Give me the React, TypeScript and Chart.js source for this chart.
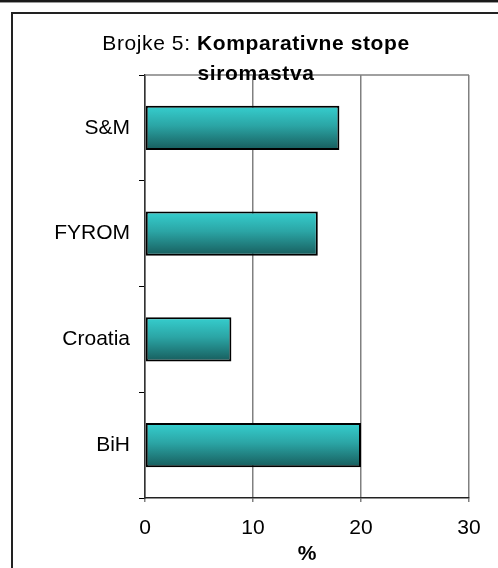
import React, { useEffect, useRef } from "react";
import { Chart, registerables } from "chart.js";

Chart.register(...registerables);

const categories = ["S&M", "FYROM", "Croatia", "BiH"];
const povertyRates = [18, 16, 8, 20];
const xTicks = [0, 10, 20, 30];
const titleNormal = "Brojke 5: ";
const titleBold1 = "Komparativne stope";
const titleBold2 = "siromastva";
const axisTitle = "%";

const FONT = "Arial, 'Liberation Sans', sans-serif";
const FS = 21;
const BAR_PCT = 0.42;

const titlePlugin = {
  id: "mixedTitle",
  afterDraw(chart: any) {
    const { ctx, chartArea } = chart;
    ctx.save();
    ctx.strokeStyle = "#808080";
    ctx.lineWidth = 1.5;
    ctx.beginPath();
    ctx.moveTo(chartArea.left, chartArea.top);
    ctx.lineTo(chartArea.right, chartArea.top);
    ctx.stroke();

    const cx = chart.width / 2 + 7;
    ctx.fillStyle = "#000";
    ctx.textBaseline = "alphabetic";
    ctx.textAlign = "left";
    try {
      ctx.letterSpacing = "0.6px";
    } catch (e) {}
    const normalFont = `${FS}px ${FONT}`;
    const boldFont = `bold ${FS}px ${FONT}`;
    ctx.font = normalFont;
    const w1 = ctx.measureText(titleNormal).width;
    ctx.font = boldFont;
    const w2 = ctx.measureText(titleBold1).width;
    const startX = cx - (w1 + w2) / 2;
    const y1 = chartArea.top - 25;
    ctx.font = normalFont;
    ctx.fillText(titleNormal, startX, y1);
    ctx.font = boldFont;
    ctx.fillText(titleBold1, startX + w1, y1);
    ctx.textAlign = "center";
    ctx.fillText(titleBold2, cx, chartArea.top + 5);
    ctx.restore();
  },
};

export default function App() {
  const ref = useRef<HTMLCanvasElement | null>(null);

  useEffect(() => {
    if (!ref.current) return;
    const chart = new Chart(ref.current, {
      type: "bar",
      data: {
        labels: categories,
        datasets: [
          {
            data: povertyRates,
            borderColor: "#000",
            borderWidth: 2,
            borderSkipped: false,
            categoryPercentage: 1,
            barPercentage: BAR_PCT,
            backgroundColor: (c: any) => {
              const ch = c.chart;
              const y = ch.scales && ch.scales.y;
              if (!y || !ch.chartArea) return "#2aa0a0";
              const center = y.getPixelForValue(c.dataIndex);
              const half = ((y.bottom - y.top) / categories.length) * BAR_PCT / 2;
              const g = ch.ctx.createLinearGradient(0, center - half, 0, center + half);
              g.addColorStop(0, "#36CFCF");
              g.addColorStop(0.45, "#2BA5A5");
              g.addColorStop(1, "#175C5C");
              return g;
            },
          },
        ],
      },
      options: {
        indexAxis: "y",
        responsive: false,
        animation: false,
        layout: { padding: { left: 0, right: 29, top: 75, bottom: 0 } },
        plugins: {
          legend: { display: false },
          tooltip: { enabled: false },
          title: { display: false },
        },
        scales: {
          x: {
            min: xTicks[0],
            max: xTicks[xTicks.length - 1],
            afterFit: (s: any) => {
              s.height = 70;
            },
            afterBuildTicks: (s: any) => {
              s.ticks = xTicks.map((v) => ({ value: v }));
            },
            ticks: {
              color: "#000",
              font: { family: FONT, size: FS },
              padding: 14,
              maxRotation: 0,
            },
            grid: {
              color: "#808080",
              lineWidth: 1.5,
              tickLength: 4,
              drawTicks: true,
            },
            border: { color: "#222", width: 1.5 },
            title: {
              display: true,
              text: axisTitle,
              color: "#000",
              font: { family: FONT, size: FS, weight: "bold" },
              padding: { top: 0, bottom: 1 },
            },
          },
          y: {
            afterFit: (s: any) => {
              s.width = 145;
            },
            ticks: {
              color: "#000",
              font: { family: FONT, size: FS },
              padding: 9,
            },
            grid: {
              offset: true,
              drawOnChartArea: false,
              drawTicks: true,
              tickLength: 6,
              tickColor: "#000",
              tickWidth: 1,
            },
            border: { color: "#333", width: 1.5 },
          },
        },
      },
      plugins: [titlePlugin],
    } as any);
    return () => chart.destroy();
  }, []);

  return (
    <div
      style={{
        position: "absolute",
        left: 0,
        top: 0,
        width: 498,
        height: 568,
        overflow: "hidden",
        background: "#fff",
      }}
    >
      <div
        style={{
          position: "absolute",
          left: 0,
          top: 0,
          width: 498,
          height: 2,
          background: "#1a1a1a",
          borderBottom: "1px solid #999",
        }}
      />
      <div
        style={{
          position: "absolute",
          left: 11,
          top: 12,
          width: 600,
          height: 700,
          border: "2px solid #222",
          boxSizing: "border-box",
        }}
      />
      <canvas
        ref={ref}
        width={498}
        height={568}
        style={{ position: "absolute", left: 0, top: 0, width: 498, height: 568 }}
      />
    </div>
  );
}
